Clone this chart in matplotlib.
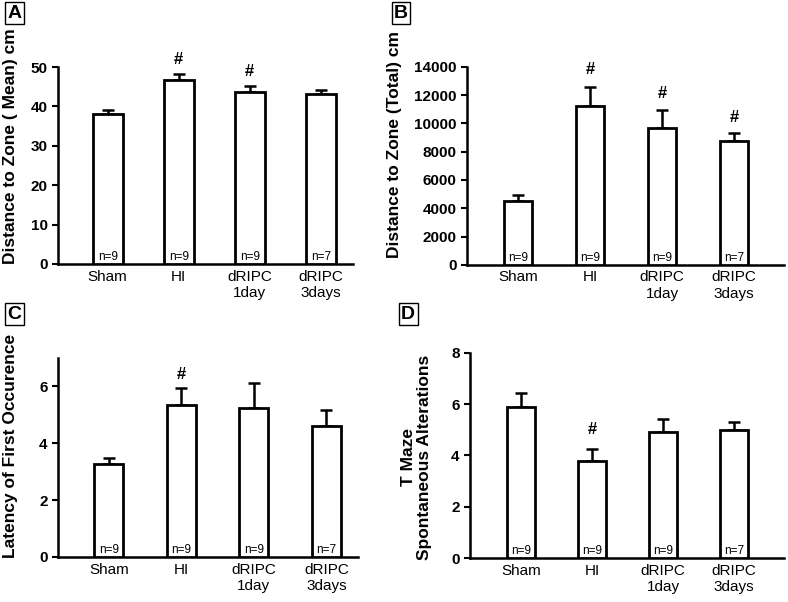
import numpy as np
import matplotlib
matplotlib.use("Agg")
import matplotlib.pyplot as plt

plt.rcParams['font.family'] = ['Liberation Sans', 'DejaVu Sans']

groups = ["Sham", "HI", "dRIPC\n1day", "dRIPC\n3days"]
n_labels = ["n=9", "n=9", "n=9", "n=7"]

# panel A: distance to zone (mean)
dist_mean = [38.2, 46.7, 43.7, 43.3]
dist_mean_err = [1.0, 1.5, 1.4, 0.8]
dist_mean_hash = [None, 52.0, 49.0, None]

# panel B: distance to zone (total)
dist_total = [4550, 11200, 9650, 8750]
dist_total_err = [380, 1400, 1300, 580]
dist_total_hash = [None, 13800, 12100, 10450]

# panel C: latency
latency = [3.27, 5.35, 5.22, 4.60]
latency_err = [0.21, 0.57, 0.88, 0.58]
latency_hash = [None, 6.42, None, None]

# panel D: T maze
tmaze = [5.9, 3.8, 4.9, 5.0]
tmaze_err = [0.52, 0.45, 0.50, 0.30]
tmaze_hash = [None, 5.0, None, None]

fig = plt.figure(figsize=(7.88, 6.02), dpi=100)

panels = [
    # rect, values, errs, hashes, ylim, yticks, xlim, width, letter, ylabel, label xy, letter xy
    ([0.0736, 0.5615, 0.374, 0.327], dist_mean, dist_mean_err, dist_mean_hash,
     (0, 50), [0, 10, 20, 30, 40, 50], (-0.70, 3.45), 0.42, "A",
     "Distance to Zone ( Mean) cm", (-0.136, 0.60), (0.018, 0.978)),
    ([0.5926, 0.560, 0.402, 0.329], dist_total, dist_total_err, dist_total_hash,
     (0, 14000), list(range(0, 14001, 2000)), (-0.71, 3.69), 0.39, "B",
     "Distance to Zone (Total) cm", (-0.205, 0.606), (0.509, 0.978)),
    ([0.0736, 0.0748, 0.381, 0.331], latency, latency_err, latency_hash,
     (0, 7), [0, 2, 4, 6], (-0.70, 3.44), 0.40, "C",
     "Latency of First Occurence", (-0.133, 0.558), (0.018, 0.478)),
    ([0.5964, 0.073, 0.398, 0.341], tmaze, tmaze_err, tmaze_hash,
     (0, 8), [0, 2, 4, 6, 8], (-0.72, 3.70), 0.40, "D",
     "T Maze\nSpontaneous Alterations", (-0.121, 0.49), (0.518, 0.478)),
]

x = np.arange(len(groups))
for rect, vals, errs, hashes, ylim, yticks, xlim, w, letter, ylabel, lxy, pxy in panels:
    ax = fig.add_axes(rect)
    ax.bar(x, vals, width=w, color="white", edgecolor="black", linewidth=2, zorder=3)
    ax.errorbar(x, vals, yerr=[np.zeros(len(vals)), errs], fmt="none",
                ecolor="black", elinewidth=1.8, capsize=4, capthick=1.8, zorder=2)
    for xi, h in zip(x, hashes):
        if h is not None:
            ax.text(xi, h, "#", ha="center", va="center", fontsize=12, fontweight="bold")
    for xi, n in zip(x, n_labels):
        ax.text(xi, ylim[1] * 0.005, n, ha="center", va="bottom", fontsize=8.5, zorder=4)
    ax.set_ylim(*ylim)
    ax.set_xlim(*xlim)
    ax.set_yticks(yticks)
    ax.set_xticks(x)
    ax.set_xticklabels(groups, fontsize=11)
    ax.tick_params(axis="x", length=0, pad=4)
    ax.tick_params(axis="y", length=4, width=1.5, labelsize=11)
    for lab in ax.get_yticklabels():
        lab.set_fontweight("bold")
    for s in ["top", "right"]:
        ax.spines[s].set_visible(False)
    for s in ["left", "bottom"]:
        ax.spines[s].set_linewidth(1.8)
    ax.set_ylabel(ylabel, fontsize=12.5, fontweight="bold", linespacing=1.05)
    ax.yaxis.set_label_coords(*lxy)
    fig.text(pxy[0], pxy[1], letter, fontsize=14, fontweight="bold", va="center", ha="center",
             bbox=dict(boxstyle="square,pad=0.12", facecolor="white", edgecolor="black", linewidth=1))

fig.savefig("out.png", dpi=100)
